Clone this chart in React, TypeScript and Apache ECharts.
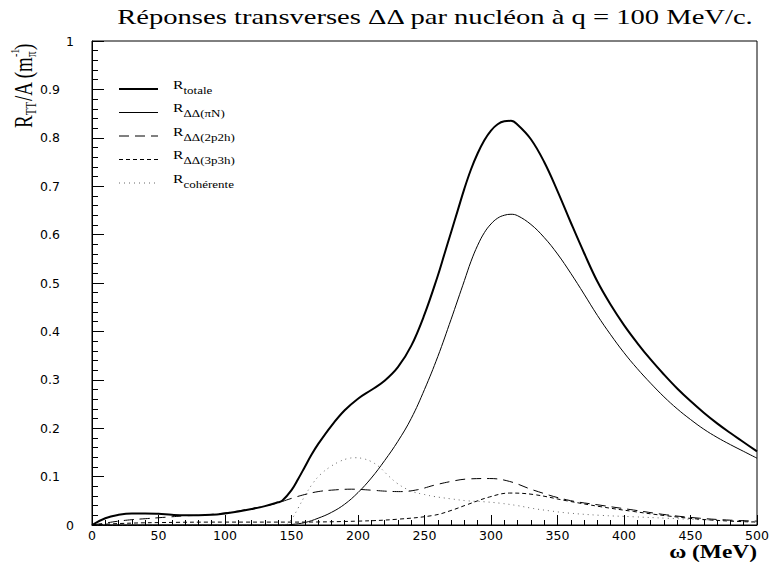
import React, { useEffect, useRef } from "react";
import * as echarts from "echarts";

const titleText = "Réponses transverses ΔΔ par nucléon à q = 100 MeV/c.";
const xAxisTitle = "ω (MeV)";

const totaleOmega = [0, 10, 20, 30, 40, 50, 60, 70, 80, 90, 100, 110, 120, 130, 140, 143, 150, 155, 160, 165, 170, 180, 190, 200, 210, 220, 230, 240, 250, 260, 265, 270, 275, 280, 285, 290, 295, 300, 305, 310, 315, 320, 330, 340, 350, 360, 370, 380, 390, 400, 410, 420, 430, 440, 450, 460, 470, 480, 490, 500];
const totaleValues = [0, 0.014, 0.021, 0.024, 0.024, 0.023, 0.021, 0.02, 0.02, 0.021, 0.024, 0.028, 0.033, 0.039, 0.047, 0.05, 0.072, 0.095, 0.12, 0.145, 0.167, 0.205, 0.237, 0.261, 0.279, 0.298, 0.326, 0.37, 0.435, 0.515, 0.56, 0.605, 0.65, 0.695, 0.735, 0.768, 0.795, 0.815, 0.828, 0.834, 0.835, 0.827, 0.797, 0.75, 0.69, 0.625, 0.562, 0.503, 0.455, 0.413, 0.376, 0.342, 0.311, 0.282, 0.256, 0.232, 0.21, 0.19, 0.171, 0.152];

const piNOmega = [0, 145, 150, 160, 170, 180, 190, 200, 210, 220, 230, 240, 250, 260, 270, 275, 280, 285, 290, 295, 300, 305, 310, 315, 320, 330, 340, 350, 360, 370, 380, 390, 400, 410, 420, 430, 440, 450, 460, 470, 480, 490, 500];
const piNValues = [0, 0, 0.001, 0.005, 0.014, 0.026, 0.043, 0.067, 0.097, 0.133, 0.173, 0.22, 0.28, 0.348, 0.425, 0.465, 0.505, 0.545, 0.578, 0.604, 0.622, 0.634, 0.64, 0.642, 0.639, 0.621, 0.594, 0.56, 0.52, 0.477, 0.433, 0.393, 0.356, 0.323, 0.293, 0.265, 0.24, 0.218, 0.198, 0.181, 0.166, 0.152, 0.138];

const p2h2Omega = [0, 10, 20, 30, 40, 50, 60, 70, 80, 90, 100, 110, 120, 130, 140, 150, 160, 170, 180, 195, 210, 220, 232, 245, 257, 270, 282, 299, 314, 332, 357, 382, 407, 432, 457, 480, 500];
const p2h2Values = [0, 0.004, 0.008, 0.011, 0.013, 0.015, 0.017, 0.019, 0.02, 0.022, 0.025, 0.029, 0.034, 0.039, 0.046, 0.055, 0.063, 0.069, 0.072, 0.074, 0.072, 0.07, 0.069, 0.073, 0.082, 0.09, 0.095, 0.096, 0.09, 0.072, 0.052, 0.041, 0.031, 0.021, 0.014, 0.01, 0.008];

const p3h3Omega = [0, 20, 50, 100, 150, 200, 230, 257, 270, 282, 299, 314, 332, 357, 382, 407, 432, 457, 480, 500];
const p3h3Values = [0, 0.003, 0.005, 0.006, 0.006, 0.008, 0.012, 0.02, 0.03, 0.042, 0.058, 0.066, 0.063, 0.05, 0.038, 0.028, 0.019, 0.012, 0.008, 0.006];

const cohOmega = [0, 145, 150, 155, 160, 166, 172, 179, 186, 192, 198, 204, 210, 216, 222, 229, 236, 242, 250, 257, 270, 282, 295, 307, 320, 332, 345, 357, 382, 407, 432, 457, 480, 500];
const cohValues = [0, 0, 0.012, 0.035, 0.06, 0.086, 0.105, 0.12, 0.131, 0.137, 0.139, 0.137, 0.131, 0.12, 0.104, 0.087, 0.075, 0.068, 0.063, 0.059, 0.054, 0.05, 0.048, 0.045, 0.04, 0.034, 0.029, 0.025, 0.02, 0.017, 0.014, 0.011, 0.009, 0.007];

const legendSubs = ["totale", "ΔΔ(πN)", "ΔΔ(2p2h)", "ΔΔ(3p3h)", "cohérente"];

const pairs = (xs: number[], ys: number[]) => xs.map((x, i) => [x, ys[i]]);

const serif = "'Liberation Serif', 'Times New Roman', serif";
const sans = "'DejaVu Sans', sans-serif";

const styles = [
  { width: 2, type: "solid" as any, color: "#000" },
  { width: 1, type: "solid" as any, color: "#000" },
  { width: 1, type: [10, 6] as any, color: "#000" },
  { width: 1, type: [4, 3] as any, color: "#000" },
  { width: 1, type: [1, 4] as any, color: "#666" },
];

export default function App() {
  const ref = useRef<HTMLDivElement>(null);
  useEffect(() => {
    const chart = echarts.init(ref.current!, null, { renderer: "svg" });
    const seriesData = [
      pairs(totaleOmega, totaleValues),
      pairs(piNOmega, piNValues),
      pairs(p2h2Omega, p2h2Values),
      pairs(p3h3Omega, p3h3Values),
      pairs(cohOmega, cohValues),
    ];
    const names = ["R totale", "R ΔΔ(πN)", "R ΔΔ(2p2h)", "R ΔΔ(3p3h)", "R cohérente"];

    const legendRowsY = [89, 112.5, 136, 159.5, 183];
    const legendEls: any[] = [];
    legendRowsY.forEach((y, i) => {
      legendEls.push({
        type: "line",
        shape: { x1: 119, y1: y, x2: 158, y2: y },
        style: { stroke: styles[i].color, lineWidth: styles[i].width, lineDash: Array.isArray(styles[i].type) ? styles[i].type : null },
        silent: true,
      });
      legendEls.push({
        type: "text",
        x: 173,
        y: y - 4.2,
        scaleX: 1.3,
        style: { text: "R", font: `12px ${serif}`, fill: "#000", align: "left", verticalAlign: "middle" },
      });
      legendEls.push({
        type: "text",
        x: 183.5,
        y: y + 1.5,
        scaleX: 1.3,
        style: { text: legendSubs[i], font: `10px ${serif}`, fill: "#000", align: "left", verticalAlign: "middle" },
      });
    });

    const yLabel = {
      type: "group",
      x: 32,
      y: 128,
      rotation: Math.PI / 2,
      scaleY: 1.3,
      children: [
        { type: "text", x: 0, y: -6.7, style: { text: "R", font: `19px ${serif}`, fill: "#000", verticalAlign: "middle" } },
        { type: "text", x: 12.8, y: 0, style: { text: "TT", font: `11px ${serif}`, fill: "#000", verticalAlign: "middle" } },
        { type: "text", x: 27, y: -6.7, style: { text: "/A (m", font: `19px ${serif}`, fill: "#000", verticalAlign: "middle" } },
        { type: "text", x: 71, y: 0, style: { text: "π", font: `11px ${serif}`, fill: "#000", verticalAlign: "middle" } },
        { type: "text", x: 71, y: -13, style: { text: "-1", font: `10px ${serif}`, fill: "#000", verticalAlign: "middle" } },
        { type: "text", x: 78, y: -6.7, style: { text: ")", font: `19px ${serif}`, fill: "#000", verticalAlign: "middle" } },
      ],
    };

    chart.setOption({
      animation: false,
      backgroundColor: "#fff",
      grid: { left: 92, right: 18, top: 41, bottom: 38, show: true, borderColor: "#000", borderWidth: 1, backgroundColor: "transparent" },
      xAxis: {
        type: "value",
        min: 0,
        max: 500,
        interval: 50,
        axisLine: { show: true, lineStyle: { color: "#000", width: 1 } },
        axisTick: { show: true, inside: true, length: 10, lineStyle: { color: "#000" } },
        minorTick: { show: true, splitNumber: 5, length: 5, lineStyle: { color: "#000" } },
        splitLine: { show: false },
        axisLabel: { color: "#000", fontFamily: sans, fontSize: 12.5, margin: 4, showMinLabel: true, showMaxLabel: true },
      },
      yAxis: {
        type: "value",
        min: 0,
        max: 1,
        interval: 0.1,
        axisLine: { show: true, lineStyle: { color: "#000", width: 1 } },
        axisTick: { show: true, inside: true, length: 12, lineStyle: { color: "#000" } },
        minorTick: { show: true, splitNumber: 5, length: 6, lineStyle: { color: "#000" } },
        splitLine: { show: false },
        axisLabel: {
          color: "#000",
          fontFamily: sans,
          fontSize: 12.5,
          align: "right",
          margin: 18,
          showMinLabel: true,
          showMaxLabel: true,
          formatter: (v: number) => {
            if (Math.abs(v) < 1e-9) return "0";
            if (Math.abs(v - 1) < 1e-9) return "1";
            return `{d|${v.toFixed(1)}}`;
          },
          rich: { d: { color: "#000", fontFamily: sans, fontSize: 12.5, padding: [0, 14, 0, 0] } },
        },
      },
      series: seriesData.map((d, i) => ({
        name: names[i],
        type: "line",
        data: d,
        showSymbol: false,
        smooth: 0.4,
        lineStyle: { color: styles[i].color, width: styles[i].width, type: styles[i].type },
        z: 10 - i,
      })),
      graphic: [
        {
          type: "text",
          x: 435,
          y: 17,
          scaleX: 1.3,
          style: { text: titleText, font: `22px ${serif}`, fill: "#000", align: "center", verticalAlign: "middle" },
        },
        {
          type: "text",
          x: 757,
          y: 552,
          scaleX: 1.3,
          style: { text: xAxisTitle, font: `bold 18px ${serif}`, fill: "#000", align: "right", verticalAlign: "middle" },
        },
        yLabel,
        ...legendEls,
      ],
    });
    return () => chart.dispose();
  }, []);
  return <div ref={ref} style={{ position: "fixed", left: 0, top: 0, width: 775, height: 563 }} />;
}
